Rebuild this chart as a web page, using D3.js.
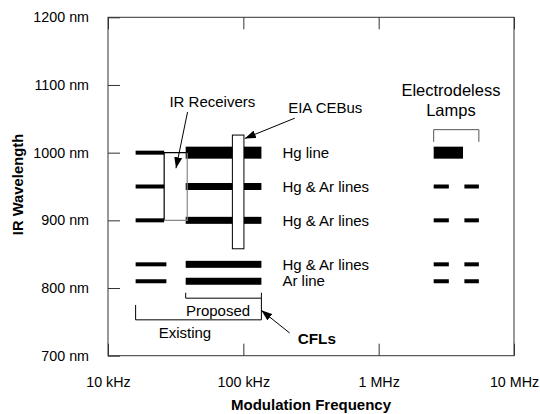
<!DOCTYPE html>
<html>
<head>
<meta charset="utf-8">
<title>IR Wavelength vs Modulation Frequency</title>
<script src="https://d3js.org/d3.v7.min.js"></script>
<style>
  body { margin: 0; background: #fff; }
  svg { display: block; font-family: "Liberation Sans", Arial, sans-serif; }
  .tick text { font-size: 14.3px; fill: #000; }
  .lbl { font-size: 15px; fill: #000; }
</style>
</head>
<body>
<svg id="chart"></svg>
<script>
// axis ticks
const freqTicks = [10, 100, 1000, 10000];            // kHz
const freqTickLabels = ["10 kHz", "100 kHz", "1 MHz", "10 MHz"];
const wlTicks = [700, 800, 900, 1000, 1100, 1200];   // nm
const wlTickLabels = ["700 nm", "800 nm", "900 nm", "1000 nm", "1100 nm", "1200 nm"];

// lamp emission lines (nm)
const lineWl = [1000, 950, 900, 835, 810];
const lineNames = ["Hg line", "Hg & Ar lines", "Hg & Ar lines", "Hg & Ar lines", "Ar line"];

// existing CFL modulation, per line (kHz)
const existingFrom = [16, 16, 16, 16, 16];
const existingTo = [26, 26, 26, 27, 27];

// proposed CFL modulation band (kHz)
const proposedBand = [37.5, 136];

// IR receivers: band (kHz) and wavelengths (nm)
const irFreq = [26, 38.5];
const irWl = [900, 1000];

// EIA CEBus
const cebusFreq = [83, 101];
const cebusWl = [858, 1026];

// electrodeless lamps (kHz): one band on the Hg line, two on the others
const elecHgBand = [2550, 4200];
const elecBands = [[2550, 3300], [4300, 5500]];

const W = 540, H = 414;
const margin = { top: 17.3, right: 26, bottom: 58.3, left: 108 };
const width = W - margin.left - margin.right;
const height = H - margin.top - margin.bottom;

const svg = d3.select("#chart").attr("width", W).attr("height", H);

const defs = svg.append("defs");
defs.append("marker")
    .attr("id", "arrow")
    .attr("markerUnits", "userSpaceOnUse")
    .attr("markerWidth", 12).attr("markerHeight", 8)
    .attr("refX", 11).attr("refY", 4)
    .attr("orient", "auto")
  .append("path")
    .attr("d", "M0,0 L11,4 L0,8 Z")
    .attr("fill", "#000");

const g = svg.append("g").attr("transform", `translate(${margin.left},${margin.top})`);

const x = d3.scaleLog().domain([10, 10000]).range([0, width]);
const y = d3.scaleLinear().domain([700, 1200]).range([height, 0]);

// axes, ticks pointing inward
const xb = g.append("g")
    .attr("transform", `translate(0,${height})`)
    .style("color", "#333")
    .call(d3.axisBottom(x).tickValues(freqTicks)
        .tickFormat((d, i) => freqTickLabels[i])
        .tickSizeInner(-12).tickSizeOuter(0));
xb.selectAll("text").attr("y", 31).attr("dy", 0).style("font-family", null);

const xt = g.append("g")
    .style("color", "#333")
    .call(d3.axisTop(x).tickValues(freqTicks).tickFormat("")
        .tickSizeInner(-12).tickSizeOuter(0));

const yl = g.append("g")
    .style("color", "#333")
    .call(d3.axisLeft(y).tickValues(wlTicks)
        .tickFormat((d, i) => wlTickLabels[i])
        .tickSizeInner(-12).tickSizeOuter(0).tickPadding(19));

g.selectAll(".domain").remove();
g.selectAll(".tick text").attr("font-family", null).attr("font-size", null);

g.append("rect")
    .attr("width", width).attr("height", height)
    .attr("fill", "none").attr("stroke", "#333").attr("stroke-width", 1);

// axis titles
g.append("text")
    .attr("x", width / 2).attr("y", 392.7)
    .attr("text-anchor", "middle")
    .style("font-size", "15px").style("font-weight", "bold")
    .text("Modulation Frequency");

g.append("text")
    .attr("transform", `translate(-85,${height / 2 - 2}) rotate(-90)`)
    .attr("text-anchor", "middle")
    .style("font-size", "14.8px").style("font-weight", "bold")
    .text("IR Wavelength");

const bar = (f0, f1, wl, t) => g.append("rect")
    .attr("x", x(f0)).attr("width", x(f1) - x(f0))
    .attr("y", y(wl) - t / 2).attr("height", t)
    .attr("fill", "#000");

// existing CFL lines
lineWl.forEach((wl, i) => bar(existingFrom[i], existingTo[i], wl, 4));

// proposed CFL lines (Hg line drawn heavier)
lineWl.forEach((wl, i) => bar(proposedBand[0], proposedBand[1], wl, lineNames[i] === "Hg line" ? 12 : 7));

// electrodeless lamps
lineWl.forEach((wl, i) => {
    if (lineNames[i] === "Hg line") bar(elecHgBand[0], elecHgBand[1], wl, 12);
    else elecBands.forEach(b => bar(b[0], b[1], wl, 4));
});

// IR receivers box
const irPath = (pts, col) => g.append("path")
    .attr("d", d3.line()(pts.map(p => [x(p[0]), y(p[1])])))
    .attr("fill", "none").attr("stroke", col).attr("stroke-width", 1.2);
irPath([[irFreq[0], irWl[0]], [irFreq[0], irWl[1]], [irFreq[1], irWl[1]]], "#000");
irPath([[irFreq[0], irWl[0]], [irFreq[1], irWl[0]], [irFreq[1], irWl[1]]], "#888");

// EIA CEBus box
g.append("rect")
    .attr("x", x(cebusFreq[0])).attr("width", x(cebusFreq[1]) - x(cebusFreq[0]))
    .attr("y", y(cebusWl[1])).attr("height", y(cebusWl[0]) - y(cebusWl[1]))
    .attr("fill", "#fff").attr("stroke", "#000").attr("stroke-width", 1);

// line names
lineWl.forEach((wl, i) => g.append("text")
    .attr("class", "lbl")
    .attr("x", x(proposedBand[1]) + 21).attr("y", y(wl)).attr("dy", "0.35em")
    .text(lineNames[i]));

// brackets
const bracket = (f0, f1, wlBar, wlL, wlR) => g.append("path")
    .attr("d", d3.line()([[x(f0), y(wlL)], [x(f0), y(wlBar)], [x(f1), y(wlBar)], [x(f1), y(wlR)]]))
    .attr("fill", "none").attr("stroke", "#000").attr("stroke-width", 1);
bracket(proposedBand[0], proposedBand[1], 785, 793, 793);
bracket(existingFrom[0], proposedBand[1], 753, 775, 785);
g.append("path")
    .attr("d", d3.line()([[x(elecBands[0][0]), y(1016)], [x(elecBands[0][0]), y(1034)],
                          [x(elecBands[1][1]), y(1034)], [x(elecBands[1][1]), y(1016)]]))
    .attr("fill", "none").attr("stroke", "#555").attr("stroke-width", 1);

// annotations
const note = (txt, f, wl, size, bold) => g.append("text")
    .attr("x", x(f)).attr("y", y(wl))
    .attr("text-anchor", "middle")
    .style("font-size", size + "px").style("font-weight", bold ? "bold" : "normal")
    .text(txt);
note("IR Receivers", 59, 1068, 15);
note("EIA CEBus", 403, 1058, 15);
note("Electrodeless", 3420, 1084, 16.5);
note("Lamps", 3420, 1054, 16.5);
note("Proposed", 65, 758.7, 15);
note("Existing", 37, 726.7, 15);
note("CFLs", 349, 718, 15.3, true);

const arrow = (f0, wl0, f1, wl1) => g.append("line")
    .attr("x1", x(f0)).attr("y1", y(wl0))
    .attr("x2", x(f1)).attr("y2", y(wl1))
    .attr("stroke", "#000").attr("stroke-width", 1)
    .attr("marker-end", "url(#arrow)");
arrow(38.7, 1060, 31.8, 977);
arrow(240, 1051, 102.6, 1021);
arrow(220, 733.5, 135.8, 767);
</script>
</body>
</html>
